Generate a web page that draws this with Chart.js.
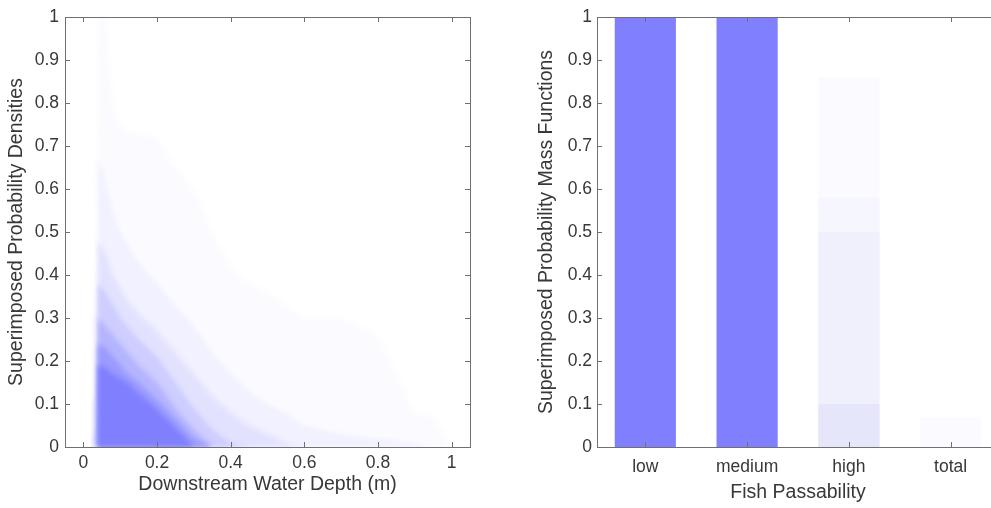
<!DOCTYPE html>
<html>
<head>
<meta charset="utf-8">
<script src="https://cdn.jsdelivr.net/npm/chart.js@4.4.1/dist/chart.umd.min.js"></script>
<style>
  html, body { margin: 0; padding: 0; background: #fff; overflow: hidden; }
  #wrap { width: 991px; height: 508px; position: relative; overflow: hidden; }
  canvas { position: absolute; top: 0; }
  #depthChart { left: 0; }
  #passChart { left: 520px; }
</style>
</head>
<body>
<div id="wrap">
<canvas id="depthChart" width="490" height="508"></canvas>
<canvas id="passChart" width="480" height="508"></canvas>
</div>
<script>
// left panel: superimposed densities, read as envelope heights per shade level
var depths = [0.02, 0.039, 0.04, 0.06, 0.08, 0.10, 0.12, 0.15, 0.20, 0.25, 0.30, 0.35, 0.40, 0.45, 0.50, 0.55, 0.60, 0.70, 0.80, 0.90, 0.95, 1.00];
var shade1 = [0.30, 0.35, 1.00, 1.00, 0.80, 0.75, 0.73, 0.73, 0.72, 0.65, 0.60, 0.50, 0.42, 0.38, 0.36, 0.33, 0.30, 0.30, 0.26, 0.08, 0.07, 0];
var shade2 = [0.10, 0.15, 0.68, 0.62, 0.55, 0.50, 0.47, 0.43, 0.38, 0.33, 0.28, 0.22, 0.17, 0.13, 0.10, 0.08, 0.05, 0.03, 0.02, 0.01, 0, 0];
var shade3 = [0, 0.05, 0.48, 0.45, 0.40, 0.37, 0.34, 0.31, 0.27, 0.22, 0.17, 0.12, 0.08, 0.05, 0.03, 0.01, 0, 0, 0, 0, 0, 0];
var shade4 = [0, 0, 0.38, 0.36, 0.33, 0.30, 0.28, 0.25, 0.21, 0.15, 0.09, 0.04, 0.01, 0, 0, 0, 0, 0, 0, 0, 0, 0];
var shade5 = [0, 0, 0.30, 0.28, 0.26, 0.24, 0.22, 0.19, 0.15, 0.09, 0.04, 0, 0, 0, 0, 0, 0, 0, 0, 0, 0, 0];
var shade6 = [0, 0, 0.24, 0.23, 0.21, 0.19, 0.17, 0.15, 0.11, 0.065, 0.02, 0, 0, 0, 0, 0, 0, 0, 0, 0, 0, 0];
var shade7 = [0, 0, 0.19, 0.185, 0.17, 0.16, 0.15, 0.125, 0.088, 0.045, 0, 0, 0, 0, 0, 0, 0, 0, 0, 0, 0, 0];
var depthTicks = [0, 0.2, 0.4, 0.6, 0.8, 1];

// right panel: superimposed probability mass functions
var classes = ['low', 'medium', 'high', 'total'];
var pmf1 = [1, 1, 0.86, 0.07];
var pmf2 = [1, 1, 0.58, 0];
var pmf3 = [1, 1, 0.50, 0];
var pmf4 = [1, 1, 0.10, 0];
var pmf5 = [1, 1, 0, 0];

var probTicks = [0, 0.1, 0.2, 0.3, 0.4, 0.5, 0.6, 0.7, 0.8, 0.9, 1];

var FONT = '"Liberation Sans", Arial, sans-serif';
var TEXT = '#383838';
var AXIS = '#707070';

// matlab style box with inward ticks
var boxPlugin = {
  id: 'box',
  afterDraw: function(chart) {
    var ctx = chart.ctx, a = chart.chartArea;
    var xs = chart.scales.x, ys = chart.scales.y;
    var len = 5;
    ctx.save();
    ctx.strokeStyle = AXIS;
    ctx.lineWidth = 1;
    ctx.strokeRect(Math.round(a.left) + 0.5, Math.round(a.top) + 0.5, Math.round(a.right - a.left), Math.round(a.bottom - a.top));
    ctx.beginPath();
    xs.ticks.forEach(function(t) {
      var px = Math.round(xs.getPixelForValue(t.value)) + 0.5;
      ctx.moveTo(px, a.bottom); ctx.lineTo(px, a.bottom - len);
      ctx.moveTo(px, a.top); ctx.lineTo(px, a.top + len);
    });
    ys.ticks.forEach(function(t) {
      var py = Math.round(ys.getPixelForValue(t.value)) + 0.5;
      ctx.moveTo(a.left, py); ctx.lineTo(a.left + len, py);
      ctx.moveTo(a.right, py); ctx.lineTo(a.right - len, py);
    });
    ctx.stroke();
    ctx.restore();
  }
};

// soften the shade steps a little
var softPlugin = {
  id: 'soft',
  beforeDatasetsDraw: function(chart) { chart.ctx.save(); chart.ctx.filter = 'blur(2.5px)'; },
  afterDatasetsDraw: function(chart) { chart.ctx.restore(); }
};

function fmt(v) { return String(Math.round(v * 10) / 10); }

function yAxis(title, width, titlePad) {
  return {
    min: 0, max: 1,
    afterBuildTicks: function(s) { s.ticks = probTicks.map(function(v) { return { value: v }; }); },
    afterFit: function(s) { s.width = width; },
    grid: { display: false, drawTicks: false },
    border: { display: false },
    ticks: { padding: 6, color: TEXT, font: { family: FONT, size: 17.5 }, callback: fmt },
    title: { display: true, text: title, color: TEXT, padding: { top: titlePad, bottom: 0 }, font: { family: FONT, size: 19.5 } }
  };
}

function layer(values, color, order) {
  return {
    data: depths.map(function(d, i) { return { x: d, y: values[i] }; }),
    fill: 'origin',
    backgroundColor: color,
    borderColor: 'rgba(0,0,0,0)',
    borderWidth: 0,
    pointRadius: 0,
    tension: 0,
    order: order
  };
}

new Chart(document.getElementById('depthChart'), {
  type: 'line',
  data: {
    datasets: [
      layer(shade1, '#FBFBFF', 7),
      layer(shade2, '#F1F1FF', 6),
      layer(shade3, '#E2E2FF', 5),
      layer(shade4, '#CDCDFF', 4),
      layer(shade5, '#B4B4FF', 3),
      layer(shade6, '#9A9AFF', 2),
      layer(shade7, '#8080FF', 1)
    ]
  },
  options: {
    responsive: false,
    animation: false,
    devicePixelRatio: 1,
    layout: { padding: { top: 17, right: 20, left: 0, bottom: 0 } },
    plugins: { legend: { display: false }, tooltip: { enabled: false } },
    scales: {
      x: {
        type: 'linear', min: -0.05, max: 1.05,
        afterBuildTicks: function(s) { s.ticks = depthTicks.map(function(v) { return { value: v }; }); },
        afterFit: function(s) { s.height = 61; },
        grid: { display: false, drawTicks: false },
        border: { display: false },
        ticks: { padding: 6, color: TEXT, font: { family: FONT, size: 17.5 }, callback: fmt },
        title: { display: true, text: 'Downstream Water Depth (m)', color: TEXT, padding: { top: 0, bottom: 12 }, font: { family: FONT, size: 19.5 } }
      },
      y: yAxis('Superimposed Probability Densities', 65, 5)
    }
  },
  plugins: [softPlugin, boxPlugin]
});

function pmfSet(values, color, order) {
  return {
    data: values.map(function(v, i) { return { x: i + 1, y: v }; }),
    backgroundColor: color,
    borderWidth: 0,
    grouped: false,
    barPercentage: 0.6,
    categoryPercentage: 1,
    order: order
  };
}

var pmfY = yAxis('Superimposed Probability Mass Functions', 77, 15);
pmfY.ticks.padding = 5;

// right edge of this panel sits just past the picture edge (clipped by #wrap)
new Chart(document.getElementById('passChart'), {
  type: 'bar',
  data: {
    datasets: [
      pmfSet(pmf1, '#FAFAFF', 5),
      pmfSet(pmf2, '#F6F6FE', 4),
      pmfSet(pmf3, '#F0F0FD', 3),
      pmfSet(pmf4, '#E6E6FA', 2),
      pmfSet(pmf5, '#8080FF', 1)
    ]
  },
  options: {
    responsive: false,
    animation: false,
    devicePixelRatio: 1,
    layout: { padding: { top: 17, right: 1, left: 0, bottom: 0 } },
    plugins: { legend: { display: false }, tooltip: { enabled: false } },
    scales: {
      x: {
        type: 'linear', min: 0.525, max: 4.475, offset: false,
        afterBuildTicks: function(s) { s.ticks = classes.map(function(c, i) { return { value: i + 1 }; }); },
        afterFit: function(s) { s.height = 61; },
        grid: { display: false, drawTicks: false, offset: false },
        border: { display: false },
        ticks: {
          padding: 10, color: TEXT, font: { family: FONT, size: 17.5 },
          callback: function(v) { return classes[v - 1]; }
        },
        title: { display: true, text: 'Fish Passability', color: TEXT, padding: { top: 0, bottom: 4 }, font: { family: FONT, size: 19.5 } }
      },
      y: pmfY
    }
  },
  plugins: [boxPlugin]
});
</script>
</body>
</html>
